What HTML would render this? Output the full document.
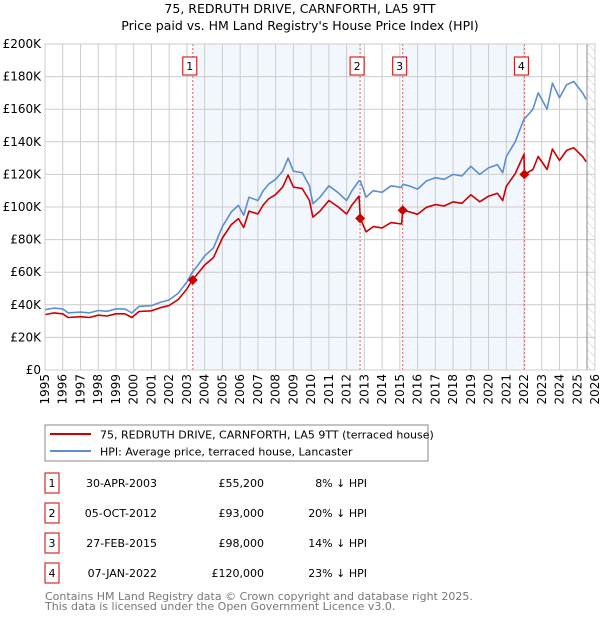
<!DOCTYPE html>
<html><head><meta charset="utf-8"><style>
body{margin:0;background:#fff;font-family:"DejaVu Sans","Liberation Sans",sans-serif;}
svg text{font-family:"DejaVu Sans","Liberation Sans",sans-serif;}
</style></head><body>
<svg id="c" width="600" height="620" xmlns="http://www.w3.org/2000/svg">
<defs><pattern id="hatch" width="6" height="6" patternUnits="userSpaceOnUse" patternTransform="rotate(-45)"><line x1="0" y1="0" x2="0" y2="6" stroke="#ccc" stroke-width="1"/></pattern></defs>
<text x="300" y="13" text-anchor="middle" font-size="12.5">75, REDRUTH DRIVE, CARNFORTH, LA5 9TT</text>
<text x="300" y="30" text-anchor="middle" font-size="12.5">Price paid vs. HM Land Registry's House Price Index (HPI)</text>
<g id="plot"></g>
<rect x="45" y="425" width="383" height="36" fill="#fff" stroke="#888"/>
<line x1="50" y1="434" x2="91" y2="434" stroke="#cc0000" stroke-width="2"/>
<text x="100" y="438.5" font-size="11">75, REDRUTH DRIVE, CARNFORTH, LA5 9TT (terraced house)</text>
<line x1="50" y1="451" x2="91" y2="451" stroke="#5b8fd0" stroke-width="2"/>
<text x="100" y="455.5" font-size="11">HPI: Average price, terraced house, Lancaster</text>
<g id="table" font-size="11"></g>
<text x="45" y="600" font-size="11" fill="#777">Contains HM Land Registry data © Crown copyright and database right 2025.</text>
<text x="45" y="610" font-size="11" fill="#777">This data is licensed under the Open Government Licence v3.0.</text>
</svg>
<script>
const dates=[1995.0,1995.5,1996.0,1996.3,1997.0,1997.5,1998.0,1998.5,1999.0,1999.5,1999.9,2000.3,2001.0,2001.5,2002.0,2002.5,2003.0,2003.3,2003.6,2004.0,2004.5,2005.0,2005.5,2005.9,2006.2,2006.5,2007.0,2007.3,2007.6,2008.0,2008.4,2008.7,2009.0,2009.5,2009.9,2010.1,2010.5,2011.0,2011.5,2012.0,2012.3,2012.7,2012.77,2013.1,2013.5,2014.0,2014.5,2015.1,2015.16,2015.5,2016.0,2016.5,2017.0,2017.5,2018.0,2018.5,2019.0,2019.5,2020.0,2020.5,2020.8,2021.0,2021.5,2022.0,2022.02,2022.5,2022.8,2023.3,2023.6,2024.0,2024.4,2024.8,2025.3,2025.5];
const hpiValues=[37,38,37.5,35,35.5,35,36.5,36,37.5,37.5,35,39,39.5,41.5,43,47,54,60,64,70,75,88,97,101,95,106,104,110,114,117,122,130,122,121,113,102,106,113,109,104,110,116,116,106,110,109,113,112,114,113,111,116,118,117,120,119,125,120,124,126,121,131,140,154,154,160,170,160,176,167,175,177,170,166];
const priceValues=[34,35,34.5,32.2,32.7,32.2,33.6,33.1,34.5,34.5,32.2,35.9,36.3,38.2,39.6,43.2,49.7,55.2,59,64.4,69,81,89.2,92.9,87.4,97.5,95.7,101.2,104.9,107.6,112.2,119.6,112.2,111.3,104,93.8,97.5,104,100.3,95.7,101.2,106.7,93,84.8,88,87.2,90.4,89.6,98,97.2,95.5,99.8,101.5,100.6,103.2,102.3,107.5,103.2,106.6,108.4,104,112.7,120.4,132.4,120,123,131,123,135.5,128.6,134.7,136.3,131,127.8];
const saleDates=[2003.33,2012.76,2015.16,2022.02];
const salePrices=[55.2,93,98,120];
const saleLabels=["1","2","3","4"];
const saleDateText=["30-APR-2003","05-OCT-2012","27-FEB-2015","07-JAN-2022"];
const salePriceText=["£55,200","£93,000","£98,000","£120,000"];
const saleDiffText=["8% ↓ HPI","20% ↓ HPI","14% ↓ HPI","23% ↓ HPI"];
const yTicks=[0,20,40,60,80,100,120,140,160,180,200];
const yTickLabels=["£0","£20K","£40K","£60K","£80K","£100K","£120K","£140K","£160K","£180K","£200K"];
const xYears=[1995,1996,1997,1998,1999,2000,2001,2002,2003,2004,2005,2006,2007,2008,2009,2010,2011,2012,2013,2014,2015,2016,2017,2018,2019,2020,2021,2022,2023,2024,2025,2026];

const NS="http://www.w3.org/2000/svg";
const L=45,R=595,T=44,B=370;
const xs=y=>L+(y-1995)/(2026-1995)*(R-L);
const ys=v=>B-v/200*(B-T);
const g=document.getElementById('plot');
function mk(tag,at,parent){const e=document.createElementNS(NS,tag);for(const k in at)e.setAttribute(k,at[k]);(parent||g).appendChild(e);return e;}
// shading
const s1=mk('rect',{x:xs(saleDates[0]),y:T,width:xs(saleDates[1])-xs(saleDates[0]),height:B-T,fill:'#eef3fc',opacity:0.75});


const s2=mk('rect',{x:xs(saleDates[2]),y:T,width:xs(saleDates[3])-xs(saleDates[2]),height:B-T,fill:'#eef3fc',opacity:0.75});


const hx=xs(2025.55);
const hr=mk('rect',{x:hx,y:T,width:R-hx,height:B-T,fill:'url(#hatch)'});


// grid
yTicks.forEach((v,i)=>{
 const ln=mk('line',{x1:L,x2:R,y1:ys(v),y2:ys(v),stroke:'#cccccc','stroke-width':1});
 
 
 const t=mk('text',{x:L-4,y:ys(v)+4,'text-anchor':'end','font-size':12});
 t.textContent=yTickLabels[i];
 
 
});
xYears.forEach(yr=>{
 const ln=mk('line',{x1:xs(yr),x2:xs(yr),y1:T,y2:B,stroke:'#cccccc','stroke-width':1});
 
 
 const t=mk('text',{x:0,y:0,'text-anchor':'end','font-size':12,transform:`translate(${xs(yr)+4},${B+4}) rotate(-90)`});
 t.textContent=yr;
 
 
});
const vl=mk('line',{x1:hx,x2:hx,y1:T,y2:B,stroke:'#888','stroke-width':1});


// sale vlines
saleDates.forEach((d,i)=>{
 const ln=mk('line',{x1:xs(d),x2:xs(d),y1:T,y2:B,stroke:'#e06060','stroke-width':1,'stroke-dasharray':'2,2'});
 
 
 const bx=mk('rect',{x:xs(d)-10,y:57,width:14,height:18,fill:'#fff',stroke:'#cc0000','stroke-width':1});
 
 
 const t=mk('text',{x:xs(d)-3,y:70,'text-anchor':'middle','font-size':11});
 t.textContent=saleLabels[i];
 
 
});
function path(vals){return dates.map((d,i)=>(i?'L':'M')+xs(d).toFixed(1)+','+ys(vals[i]).toFixed(1)).join('');}
const hp=mk('path',{d:path(hpiValues),fill:'none',stroke:'#5b8fd0','stroke-width':1.6,'stroke-linejoin':'round'});


const pp=mk('path',{d:path(priceValues),fill:'none',stroke:'#cc0000','stroke-width':1.6,'stroke-linejoin':'round'});


saleDates.forEach((d,i)=>{
 const x=xs(d),y=ys(salePrices[i]);
 const m=mk('polygon',{points:`${x},${y-5} ${x+5},${y} ${x},${y+5} ${x-5},${y}`,fill:'#cc0000'});
 
 
});
const ax=mk('rect',{x:L,y:T,width:R-L,height:B-T,fill:'none',stroke:'#cccccc'});


// table
const tb=document.getElementById('table');
saleLabels.forEach((lab,i)=>{
 const cy=483+i*30;
 const bx=mk('rect',{x:45,y:cy-10,width:14,height:20,fill:'#fff',stroke:'#cc0000'},tb);
 
 
 const t0=mk('text',{x:52,y:cy+4,'text-anchor':'middle'},tb);t0.textContent=lab;
 
 
 const t1=mk('text',{x:157,y:cy+4,'text-anchor':'end'},tb);t1.textContent=saleDateText[i];
 
 
 const t2=mk('text',{x:264,y:cy+4,'text-anchor':'end'},tb);t2.textContent=salePriceText[i];
 
 
 const t3=mk('text',{x:367,y:cy+4,'text-anchor':'end'},tb);t3.textContent=saleDiffText[i];
 
 
});
</script>
</body></html>
